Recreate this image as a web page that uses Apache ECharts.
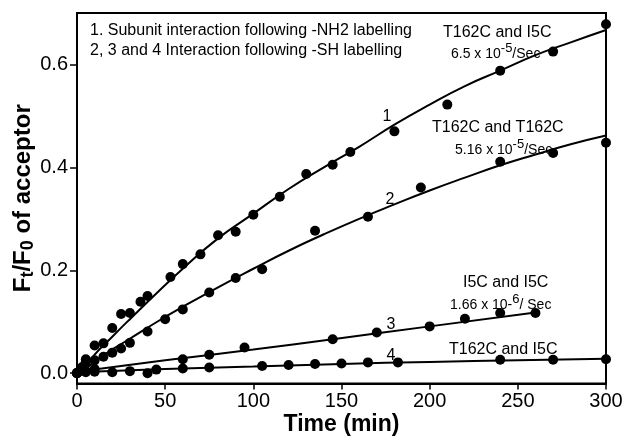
<!DOCTYPE html>
<html>
<head>
<meta charset="utf-8">
<script src="https://cdn.jsdelivr.net/npm/echarts@6/dist/echarts.min.js"></script>
<style>
html,body{margin:0;padding:0;background:#fff;}
#chart{width:623px;height:436px;}
</style>
</head>
<body>
<div id="chart"></div>
<script>
// ---- data ----
var s1x = [0, 2, 5, 10, 15, 20, 25, 30, 36, 40, 53, 60, 70, 80, 90, 100, 115, 130, 145, 155, 180, 210, 240, 270, 300];
var s1y = [0, 0.005, 0.027, 0.054, 0.058, 0.088, 0.115, 0.117, 0.139, 0.150, 0.187, 0.212, 0.231, 0.268, 0.275, 0.308, 0.343, 0.387, 0.405, 0.430, 0.470, 0.522, 0.588, 0.625, 0.678];
var s2x = [0, 3, 5, 10, 15, 20, 25, 30, 40, 50, 60, 75, 90, 105, 135, 165, 195, 240, 270, 300];
var s2y = [0, 0.012, 0.022, 0.025, 0.032, 0.040, 0.048, 0.059, 0.081, 0.105, 0.124, 0.157, 0.185, 0.202, 0.277, 0.304, 0.361, 0.411, 0.428, 0.448];
var s3x = [0, 5, 10, 60, 75, 95, 145, 170, 200, 220, 240, 260];
var s3y = [0, 0.004, 0.008, 0.027, 0.036, 0.050, 0.066, 0.079, 0.091, 0.106, 0.117, 0.117];
var s4x = [0, 5, 10, 20, 30, 40, 45, 60, 75, 105, 120, 135, 150, 165, 182, 240, 270, 300];
var s4y = [0.001, 0.002, 0.003, 0.002, 0.004, 0.0, 0.007, 0.009, 0.011, 0.014, 0.016, 0.018, 0.019, 0.021, 0.021, 0.026, 0.026, 0.027];

// fitted curves
var f1x = [2, 10, 20, 30, 45, 60, 80, 100, 120, 140, 160, 180, 200, 220, 240, 260, 280, 300];
var f1y = [0.0, 0.036, 0.071, 0.105, 0.155, 0.203, 0.262, 0.31, 0.358, 0.400, 0.44, 0.483, 0.522, 0.558, 0.588, 0.618, 0.643, 0.667];
var f2x = [2, 15, 30, 45, 60, 80, 100, 120, 140, 160, 180, 200, 220, 240, 260, 280, 300];
var f2y = [0.0, 0.035, 0.067, 0.099, 0.129, 0.167, 0.203, 0.238, 0.270, 0.30, 0.328, 0.355, 0.38, 0.404, 0.425, 0.445, 0.462];
var f3x = [0, 50, 100, 145, 200, 260];
var f3y = [0.003, 0.025, 0.046, 0.066, 0.091, 0.118];
var f4x = [0, 50, 100, 150, 200, 250, 300];
var f4y = [0.002, 0.008, 0.013, 0.018, 0.022, 0.025, 0.028];

var xTicks = [0, 50, 100, 150, 200, 250, 300];
var yTicks = [0, 0.2, 0.4, 0.6];

function pairs(xs, ys) { return xs.map(function (x, i) { return [x, ys[i]]; }); }

var FONT = 'Liberation Sans, Arial, sans-serif';
var chart = echarts.init(document.getElementById('chart'), null, {renderer: 'canvas'});

function scatter(xs, ys) {
  return { type: 'scatter', data: pairs(xs, ys), symbol: 'circle', symbolSize: 10,
    itemStyle: { color: '#000', opacity: 1 }, z: 3, silent: true };
}
function fit(xs, ys) {
  return { type: 'line', data: pairs(xs, ys), smooth: true, showSymbol: false, symbol: 'none',
    lineStyle: { color: '#000', width: 2 }, z: 2, silent: true };
}

var rateRich = {
  a: { fontSize: 14, fontFamily: FONT, fill: '#000' },
  sup: { fontSize: 13, fontFamily: FONT, fill: '#000', padding: [0, 0, 12, 0] }
};

function txt(x, y, text, size, align) {
  return { type: 'text', x: x, y: y, silent: true,
    style: { text: text, fill: '#000', font: size + 'px ' + FONT, align: align || 'left', verticalAlign: 'middle' } };
}
function rate(x, y, text) {
  return { type: 'text', x: x, y: y, silent: true,
    style: { text: text, fill: '#000', font: '14px ' + FONT, align: 'left', verticalAlign: 'middle', rich: rateRich } };
}

var option = {
  animation: false,
  backgroundColor: '#fff',
  grid: { left: 77, right: 17, top: 13, bottom: 52.5, show: true, borderColor: '#000', borderWidth: 2,
    containLabel: false, outerBoundsMode: 'none' },
  xAxis: {
    type: 'value', min: 0, max: 300, interval: 50,
    axisLine: { show: true, onZero: false, lineStyle: { color: '#000', width: 2 } },
    axisTick: { show: true, inside: false, length: 6, lineStyle: { color: '#000', width: 1.5 } },
    axisLabel: { color: '#000', fontSize: 20, fontFamily: FONT, margin: 8,
      customValues: xTicks },
    splitLine: { show: false },
    name: 'Time (min)', nameLocation: 'middle', nameGap: 30, nameMoveOverlap: false,
    nameTextStyle: { color: '#000', fontSize: 23, fontWeight: 'bold', fontFamily: FONT }
  },
  yAxis: {
    type: 'value', min: -0.02, max: 0.7,
    axisLine: { show: true, onZero: false, lineStyle: { color: '#000', width: 2 } },
    axisTick: { show: true, inside: false, length: 7, lineStyle: { color: '#000', width: 1.5 }, customValues: yTicks },
    axisLabel: { color: '#000', fontSize: 20, fontFamily: FONT, margin: 9, customValues: yTicks,
      formatter: function (v) { return v.toFixed(1); } },
    splitLine: { show: false },
    name: '{b|F}{s|t}{b|/F}{s|0}{b| of acceptor}', nameLocation: 'middle', nameGap: 40, nameRotate: 90,
    nameMoveOverlap: false,
    nameTextStyle: {
      rich: {
        b: { fontSize: 24, fontWeight: 'bold', fontFamily: FONT, color: '#000' },
        s: { fontSize: 18, fontWeight: 'bold', fontFamily: FONT, color: '#000', padding: [10, 0, 0, 0] }
      }
    }
  },
  series: [
    fit(f1x, f1y), fit(f2x, f2y), fit(f3x, f3y), fit(f4x, f4y),
    scatter(s1x, s1y), scatter(s2x, s2y), scatter(s3x, s3y), scatter(s4x, s4y)
  ],
  graphic: [
    txt(90, 31, '1. Subunit interaction following -NH2 labelling', 16),
    txt(90, 51, '2, 3 and 4 Interaction following -SH labelling', 16),
    txt(443, 33, 'T162C and I5C', 16),
    rate(451, 54, '{a|6.5 x 10}{sup|-5}{a|/Sec}'),
    txt(387, 117, '1', 16, 'center'),
    txt(432, 128, 'T162C and T162C', 16),
    rate(455, 150, '{a|5.16 x 10}{sup|-5}{a|/Sec}'),
    txt(390, 200, '2', 16, 'center'),
    txt(463, 283, 'I5C and I5C', 16),
    rate(450, 305, '{a|1.66 x 10-}{sup|6}{a|/ Sec}'),
    txt(391, 325, '3', 16, 'center'),
    txt(449, 350, 'T162C and I5C', 16),
    txt(391, 356, '4', 16, 'center')
  ]
};
chart.setOption(option);
</script>
</body>
</html>
